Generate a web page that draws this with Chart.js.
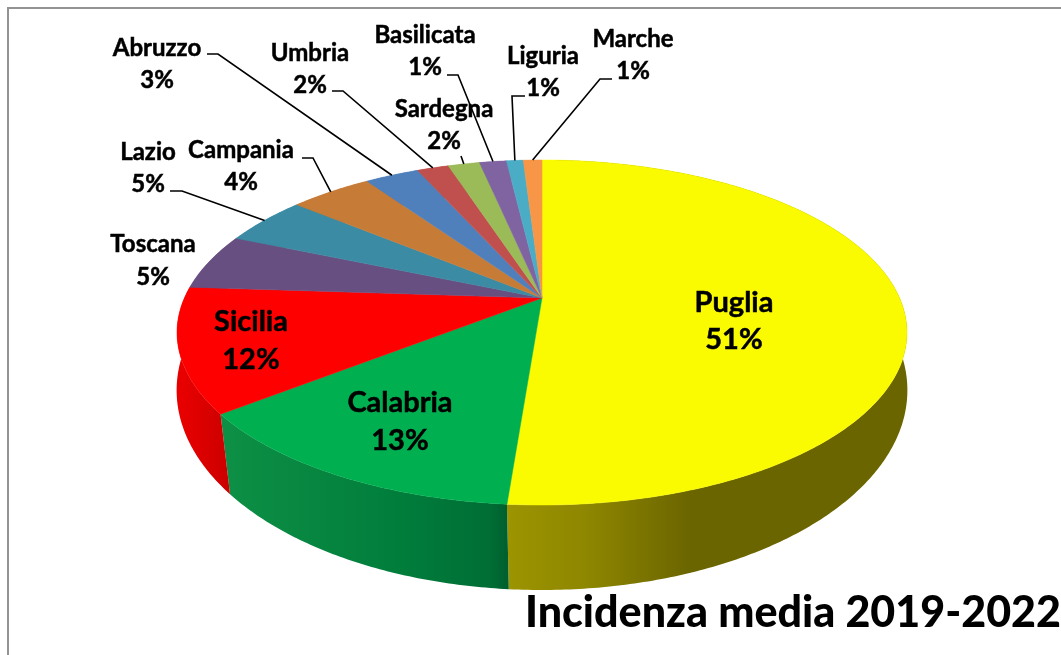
<!DOCTYPE html>
<html lang="it">
<head>
<meta charset="utf-8">
<title>Incidenza media 2019-2022</title>
<script src="https://cdn.jsdelivr.net/npm/chart.js@4/dist/chart.umd.min.js"></script>
<style>
  html, body { margin: 0; padding: 0; background: #fff; }
  #wrap { position: relative; width: 1061px; height: 655px; overflow: hidden; }
  #frame { position: absolute; left: 7px; top: 7px; width: 1100px; height: 700px; border: 2px solid #939393; }
  #chartPie { position: absolute; left: 0; top: 0; }
</style>
</head>
<body>
<div id="wrap">
  <div id="frame"></div>
  <canvas id="chartPie" width="1061" height="655"></canvas>
</div>
<script>
// ── DATI ─────────────────────────────────────────
const regioni = ['Puglia', 'Calabria', 'Sicilia', 'Toscana', 'Lazio', 'Campania',
                 'Abruzzo', 'Umbria', 'Sardegna', 'Basilicata', 'Liguria', 'Marche'];
const incidenza = [51.25, 13.2, 11.6, 5.3, 4.6, 4.4, 2.9, 1.7, 1.7, 1.45, 0.9, 1];
const colori = ['#FAFA00', '#00AF50', '#FF0000', '#684F82', '#3A8BA3', '#C67B37',
                '#4F80BB', '#C0504D', '#9BBB59', '#8064A2', '#4BACC6', '#F79646'];
const titolo = 'Incidenza media 2019-2022';

// ── PROIEZIONE 3D (fetta di torta vista in prospettiva) ──
const CX = 542;
const persp = 0.2;
const faccia = { k: 357.6, a: -106, b: 298, warp: 1 };
const fondo  = { k: 358,   a: -121.7, b: 350.3, warp: 0.947 };

function proietta(piano, angolo) {
  // t misurato dalle ore 12 in senso orario, fondo leggermente stretto verso il fronte
  const t = Math.PI + (angolo + Math.PI / 2 - Math.PI) * piano.warp;
  const u = Math.sin(t), v = Math.cos(t);
  const d = 1 + persp * v;
  return { x: CX + piano.k * u / d, y: (piano.b + piano.a * v) / d };
}

function arcoPunti(piano, a0, a1) {
  const n = Math.max(2, Math.ceil(Math.abs(a1 - a0) * 90));
  const pts = [];
  for (let i = 0; i <= n; i++) pts.push(proietta(piano, a0 + (a1 - a0) * i / n));
  return pts;
}

function tracciaPoly(c, pts) {
  c.beginPath();
  pts.forEach((p, i) => i ? c.lineTo(p.x, p.y) : c.moveTo(p.x, p.y));
  c.closePath();
}

// sfumature della parete laterale: [x, colore]
const pareti = {
  0: [[508, '#9C9400'], [585, '#8E8700'], [690, '#6B6500'], [908, '#6B6500']],
  1: [[228, '#0D8F45'], [400, '#007D3B'], [490, '#006E35'], [506, '#00602E']],
  2: [[182, '#E80000'], [228, '#CC0000']]
};

// etichette: centro x, baseline riga 1, baseline riga 2, corpo
const etichette = [
  [734, 312, 349, 29], [400, 412, 450, 29], [251, 331, 369, 29],
  [153, 252, 285, 24], [148, 160, 192, 24], [241, 158, 190, 24],
  [157, 56, 88, 24],   [310, 61, 93, 24],   [444, 117, 149, 24],
  [425, 43, 75, 24],   [543, 64, 96, 24],   [633, 47, 79, 24]
];

// linee guida: punti fissi prima del bordo della fetta
const guide = {
  4: [[170, 191], [182, 191]],
  5: [[302, 158], [313, 158]],
  6: [[207, 54], [218, 54]],
  7: [[332, 91], [343, 91]],
  8: [[461, 156]],
  9: [[447, 75], [458, 75]],
  10: [[525, 96], [512, 96]],
  11: [[612, 79], [600, 79]]
};

const torta3d = {
  id: 'torta3d',
  beforeDatasetsDraw(chart) {
    const { ctx: c } = chart;
    const archi = chart.getDatasetMeta(0).data;
    c.save();
    // pareti laterali
    archi.forEach((el, i) => {
      const sopra = arcoPunti(faccia, el.startAngle, el.endAngle);
      const sotto = arcoPunti(fondo, el.startAngle, el.endAngle).reverse();
      tracciaPoly(c, sopra.concat(sotto));
      if (pareti[i]) {
        const st = pareti[i];
        const x0 = st[0][0], x1 = st[st.length - 1][0];
        const g = c.createLinearGradient(x0, 0, x1, 0);
        st.forEach(s => g.addColorStop((s[0] - x0) / (x1 - x0), s[1]));
        c.fillStyle = g;
      } else {
        c.fillStyle = colori[i];
      }
      c.fill();
    });
    // faccia superiore
    const apice = { x: CX, y: faccia.b };
    archi.forEach((el, i) => {
      tracciaPoly(c, [apice].concat(arcoPunti(faccia, el.startAngle, el.endAngle)));
      c.fillStyle = colori[i];
      c.strokeStyle = colori[i];
      c.lineWidth = 0.5;
      c.fill();
      c.stroke();
    });
    c.restore();
    return false;
  },
  afterDraw(chart) {
    const { ctx: c } = chart;
    const archi = chart.getDatasetMeta(0).data;
    c.save();
    // linee guida
    c.strokeStyle = '#000';
    c.lineWidth = 1.6;
    Object.keys(guide).forEach(k => {
      const el = archi[k];
      const bordo = proietta(faccia, (el.startAngle + el.endAngle) / 2);
      c.beginPath();
      guide[k].forEach((p, i) => i ? c.lineTo(p[0], p[1]) : c.moveTo(p[0], p[1]));
      c.lineTo(bordo.x, bordo.y);
      c.stroke();
    });
    // etichette
    c.fillStyle = '#000';
    c.strokeStyle = '#000';
    c.lineWidth = 0.5;
    c.textAlign = 'center';
    c.textBaseline = 'alphabetic';
    regioni.forEach((r, i) => {
      const [x, y1, y2, size] = etichette[i];
      c.font = `bold ${size}px Lato, sans-serif`;
      const perc = incidenza[i].toFixed(0) + '%';
      c.fillText(r, x, y1);
      c.strokeText(r, x, y1);
      c.fillText(perc, x, y2);
      c.strokeText(perc, x, y2);
    });
    c.restore();
  }
};

new Chart(document.getElementById('chartPie'), {
  type: 'pie',
  data: {
    labels: regioni,
    datasets: [{ data: incidenza, backgroundColor: colori, borderWidth: 0 }]
  },
  options: {
    responsive: false,
    animation: false,
    layout: { padding: { top: 160 } },
    plugins: {
      legend: { display: false },
      tooltip: { enabled: false },
      title: {
        display: true,
        text: titolo,
        position: 'bottom',
        align: 'end',
        color: '#000',
        font: { family: 'Lato, sans-serif', size: 43, weight: '900' },
        padding: { top: 0, bottom: 16 }
      }
    }
  },
  plugins: [torta3d]
});
</script>
</body>
</html>
